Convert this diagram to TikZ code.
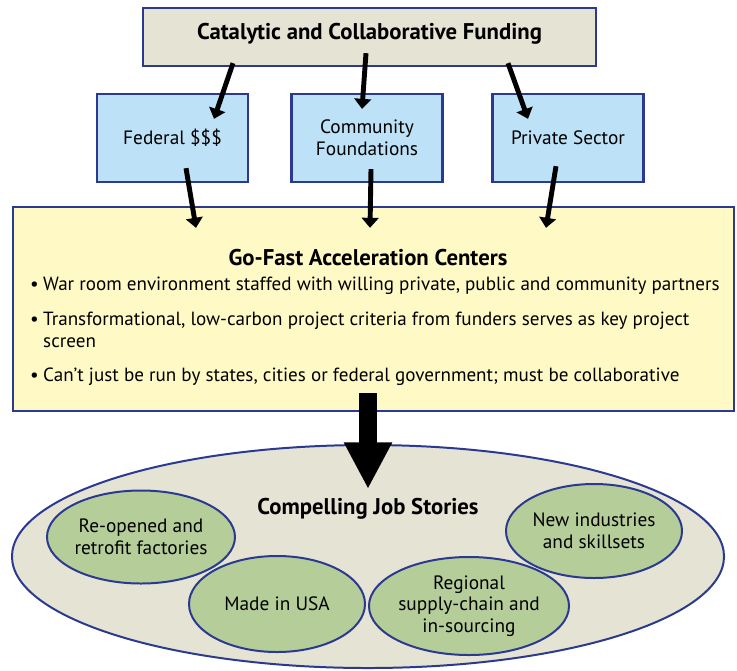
\documentclass[tikz,border=0pt]{standalone}
\usepackage{fontspec}
\setmainfont{PT Sans}
\usetikzlibrary{arrows.meta,shapes.geometric,calc}

\definecolor{edgeblue}{HTML}{2B3990}
\definecolor{sand}{HTML}{E5E3D3}
\definecolor{sky}{HTML}{BDE1F6}
\definecolor{cream}{HTML}{FFF9C6}
\definecolor{sage}{HTML}{B5CD99}

\newcommand{\itembullet}{\makebox[0.39cm][l]{\textbullet}}

\tikzset{
  panel/.style={draw=edgeblue, line width=2pt, rectangle, inner sep=0pt},
  heading/.style={font=\bfseries\fontsize{19.4}{22}\selectfont},
  source/.style={panel, fill=sky, minimum width=4.53cm, minimum height=2.64cm,
    align=center, font=\fontsize{16.5}{18.5}\selectfont},
  story/.style={draw=edgeblue, line width=1.7pt, fill=sage, ellipse, inner sep=0pt,
    minimum width=5.28cm, align=center, font=\fontsize{16.5}{18.5}\selectfont},
  flow/.style={line width=4.2pt, -{Triangle[width=0.5cm, length=0.3cm]}},
}

\begin{document}
\begin{tikzpicture}[x=0.03cm, y=-0.03cm]
        \useasboundingbox (0,0) rectangle (737,670);

        % Funding box on top
        \node[panel, heading, fill=sand, minimum width=13.59cm, minimum height=1.74cm, text depth=0.36cm] (fund) at (369.5,37) {Catalytic and Collaborative Funding};

        % The three funding sources
        \node[source] (federal) at (172.5,138) {Federal \$\$\$};
        \node[source] (community) at (367,138) {Community\\Foundations};
        \node[source] (private) at (568,138) {Private Sector};

        % Acceleration centers
        \node[panel, fill=cream, minimum width=21.63cm, minimum height=6.12cm] (centers) at (373.5,309) {};
        \node[heading] (centerstitle) at (368,258) {Go-Fast Acceleration Centers};
        \node[anchor=north west, align=left, inner sep=0pt, font=\fontsize{16.3}{18}\selectfont] (centerslist) at (30,276.5) {%
          \itembullet War room environment staffed with willing private, public and community partners\\[12.5pt]
          \itembullet Transformational, low-carbon project criteria from funders serves as key project\\
          \hspace*{0.39cm}screen\\[11pt]
          \itembullet Can't just be run by states, cities or federal government; must be collaborative};

        % Job stories
        \node[draw=edgeblue, line width=1.7pt, fill=sand, ellipse, inner sep=0pt,
          minimum width=21.36cm, minimum height=6.69cm] (stories) at (368,556.5) {};
        \node[heading] (storiestitle) at (368,509) {Compelling Job Stories};
        \node[story, minimum height=2.79cm] (factories) at (141,537) {Re-opened and\\retrofit factories};
        \node[story, minimum height=2.88cm] (usa) at (277,604) {Made in USA};
        \node[story, minimum height=2.94cm] (regional) at (469,606) {Regional\\supply-chain and\\in-sourcing};
        \node[story, minimum height=2.82cm] (industries) at (594,531) {New industries\\and skillsets};

        % Money flowing down
        \draw[flow] ($(fund.south)+(-136.5,-4)$) -- ($(federal.north)+(41.5,26)$);
        \draw[flow] ($(fund.south)+(-3.5,-14)$) -- ($(community.north)+(-5,16)$);
        \draw[flow] ($(fund.south)+(138.5,-4)$) -- ($(private.north)+(-40,26)$);

        \draw[flow] ($(federal.south)+(13.5,-15)$) -- ($(centers.north)+(-177.5,22)$);
        \draw[flow] ($(community.south)+(4,-14)$) -- ($(centers.north)+(-3.5,22)$);
        \draw[flow] ($(private.south)+(-12,-17)$) -- ($(centers.north)+(172.5,22)$);

        % Big arrow into the stories
        \draw[line width=0.54cm, -{Triangle[width=1.35cm, length=1.4cm]}] ($(centers.south)+(-5.5,-19)$) -- ($(stories.north)+(0,45)$);
    \end{tikzpicture}
\end{document}
